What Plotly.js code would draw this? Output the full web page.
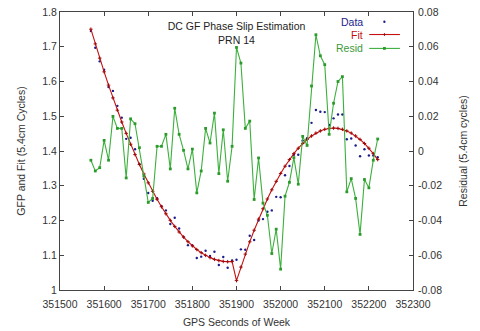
<!DOCTYPE html>
<html>
<head>
<meta charset="utf-8">
<script src="https://cdn.plot.ly/plotly-3.0.1.min.js"></script>
<style>html,body{margin:0;padding:0;background:#fff;}#chart{width:480px;height:331px;}</style>
</head>
<body>
<div id="chart"></div>
<script>
// GPS seconds of week (10 s sampling)
const seconds = [351570,351580,351590,351600,351610,351620,351630,351640,351650,351660,
  351670,351680,351690,351700,351710,351720,351730,351740,351750,351760,
  351770,351780,351790,351800,351810,351820,351830,351840,351850,351860,
  351870,351880,351890,351900,351910,351920,351930,351940,351950,351960,
  351970,351980,351990,352000,352010,352020,352030,352040,352050,352060,
  352070,352080,352090,352100,352110,352120,352130,352140,352150,352160,
  352170,352180,352190,352200,352210,352220];

// GFP data (5.4cm cycles)
const dataGFP = [1.745,1.697,1.658,1.634,1.584,1.573,1.530,1.496,1.435,1.438,
  1.405,1.363,1.320,1.279,1.257,1.264,1.242,1.229,1.190,1.208,
  1.177,1.153,1.129,1.128,1.092,1.096,1.113,1.098,1.110,1.072,
  1.095,1.064,1.085,1.087,1.117,1.116,1.156,1.144,1.200,1.204,
  1.225,1.229,1.268,1.267,1.330,1.357,1.389,1.389,1.430,1.437,
  1.481,1.518,1.513,1.512,1.475,1.494,1.505,1.505,1.434,1.436,
  1.416,1.385,1.405,1.387,1.387,1.382];

// Fit (5.4cm cycles)
const fitGFP = [1.7505,1.7082,1.6673,1.6278,1.5896,1.5528,1.5174,1.4834,1.4508,1.4195,
  1.3897,1.3612,1.3340,1.3083,1.2840,1.2611,1.2395,1.2193,1.2004,1.1830,
  1.1669,1.1523,1.1390,1.1271,1.1165,1.1074,1.0996,1.0932,1.0882,1.0846,
  1.0823,1.0815,1.0820,1.0270,1.0660,1.1032,1.1386,1.1721,1.2039,1.2338,
  1.2619,1.2882,1.3127,1.3354,1.3563,1.3753,1.3925,1.4080,1.4216,1.4333,
  1.4433,1.4515,1.4578,1.4624,1.4651,1.4660,1.4651,1.4624,1.4578,1.4515,
  1.4433,1.4333,1.4216,1.4080,1.3925,1.3753];

// Residual (5.4cm cycles)
const resid = [-0.0053,-0.0115,-0.0096,0.0061,-0.0053,0.0199,0.0130,0.0130,-0.0155,0.0185,
  0.0157,0.0019,-0.0143,-0.0296,-0.0273,0.0027,0.0027,0.0096,-0.0103,0.0246,
  0.0096,0.0004,-0.0103,0.0011,-0.0241,-0.0115,0.0130,0.0046,0.0218,-0.0130,
  0.0122,-0.0174,0.0027,0.0596,0.0506,0.0130,0.0172,-0.0279,-0.0040,-0.0300,
  -0.0370,-0.0590,-0.0450,-0.0680,-0.0260,-0.0180,-0.0038,-0.0191,0.0084,0.0032,
  0.0374,0.0669,0.0548,0.0497,0.0096,0.0275,0.0400,0.0428,-0.0235,-0.0159,
  -0.0273,-0.0480,-0.0164,-0.0212,-0.0053,0.0069];

const residTickVals = [-0.08,-0.06,-0.04,-0.02,0,0.02,0.04,0.06,0.08];
const residTickText = ["-0.08","-0.06","-0.04","-0.02","0","0.02","0.04","0.06","0.08"];
const legendNames = ["Data","Fit","Resid"];

const cBlue = '#1c1c8c', cRed = '#c41010', cGreen = '#3cb03c';
const fontFam = '"Liberation Sans", Arial, sans-serif';

const traces = [
  {x: seconds, y: dataGFP, name: legendNames[0], type: 'scatter', mode: 'markers',
   marker: {color: cBlue, size: 2.4, symbol: 'circle'}, yaxis: 'y'},
  {x: seconds, y: fitGFP, name: legendNames[1], type: 'scatter', mode: 'lines+markers',
   line: {color: cRed, width: 1.1},
   marker: {symbol: 'cross-thin', size: 2.5, color: '#a00808', line: {color: '#a00808', width: 1}}, yaxis: 'y'},
  {x: seconds, y: resid, name: legendNames[2], type: 'scatter', mode: 'lines+markers',
   line: {color: cGreen, width: 1.1},
   marker: {symbol: 'square', size: 2.8, color: '#2a9a2a'}, yaxis: 'y2'}
];

const tickFont = {family: fontFam, size: 10.5, color: '#333'};
const lx0 = 0.876, lx1 = 0.963, lxm = 0.919;
const ly = [0.965, 0.919, 0.869];

const layout = {
  width: 480, height: 331,
  margin: {l: 60, r: 67, t: 12, b: 41},
  paper_bgcolor: '#fff', plot_bgcolor: '#fff',
  showlegend: false,
  separators: '.',
  font: {family: fontFam, size: 10.5, color: '#333'},
  title: {text: 'DC GF Phase Slip Estimation<br>PRN 14', font: {family: fontFam, size: 10.5, color: '#222'},
    x: 0.5, xref: 'paper', xanchor: 'center', y: 0.909, yref: 'container', yanchor: 'middle'},
  xaxis: {range: [351500, 352300], dtick: 100, tick0: 351500, ticks: 'inside', ticklen: 4,
    tickcolor: '#444', showline: true, linecolor: '#444', linewidth: 1, mirror: 'ticks',
    showgrid: false, zeroline: false, exponentformat: 'none', tickformat: 'd',
    ticklabelstandoff: 4, tickfont: tickFont,
    title: {text: 'GPS Seconds of Week', font: {family: fontFam, size: 10.5, color: '#333'}, standoff: 10}},
  yaxis: {range: [1, 1.8], dtick: 0.1, tick0: 1, ticks: 'inside', ticklen: 4, tickcolor: '#444',
    showline: true, linecolor: '#444', linewidth: 1, mirror: true, showgrid: false, zeroline: false,
    tickfont: tickFont,
    title: {text: 'GFP and Fit (5.4cm Cycles)', font: {family: fontFam, size: 10.5, color: '#333'}, standoff: 14}},
  yaxis2: {range: [-0.08, 0.08], overlaying: 'y', side: 'right', tickvals: residTickVals, ticktext: residTickText,
    ticks: 'inside', ticklen: 4, tickcolor: '#444', showline: true, linecolor: '#444', linewidth: 1,
    showgrid: false, zeroline: false, tickfont: tickFont, ticklabelstandoff: 2,
    title: {text: 'Residual (5.4cm cycles)', font: {family: fontFam, size: 10.5, color: '#333'}, standoff: 18}},
  annotations: [
    {text: legendNames[0], xref: 'paper', yref: 'paper', x: 0.864, y: ly[0], xanchor: 'right', yanchor: 'middle', showarrow: false, font: {family: fontFam, size: 10.5, color: cBlue}},
    {text: legendNames[1], xref: 'paper', yref: 'paper', x: 0.864, y: ly[1], xanchor: 'right', yanchor: 'middle', showarrow: false, font: {family: fontFam, size: 10.5, color: cRed}},
    {text: legendNames[2], xref: 'paper', yref: 'paper', x: 0.864, y: ly[2], xanchor: 'right', yanchor: 'middle', showarrow: false, font: {family: fontFam, size: 10.5, color: '#3a9a3a'}}
  ],
  shapes: [
    {type: 'circle', xref: 'paper', yref: 'paper', x0: lxm - 0.0033, x1: lxm + 0.0033, y0: ly[0] - 0.0042, y1: ly[0] + 0.0042, fillcolor: cBlue, line: {width: 0}},
    {type: 'line', xref: 'paper', yref: 'paper', x0: lx0, x1: lx1, y0: ly[1], y1: ly[1], line: {color: cRed, width: 1.1}},
    {type: 'line', xref: 'paper', yref: 'paper', x0: lxm, x1: lxm, y0: ly[1] - 0.005, y1: ly[1] + 0.005, line: {color: '#a00808', width: 1}},
    {type: 'line', xref: 'paper', yref: 'paper', x0: lx0, x1: lx1, y0: ly[2], y1: ly[2], line: {color: cGreen, width: 1.1}},
    {type: 'rect', xref: 'paper', yref: 'paper', x0: lxm - 0.004, x1: lxm + 0.004, y0: ly[2] - 0.005, y1: ly[2] + 0.005, fillcolor: '#2a9a2a', line: {width: 0}}
  ]
};

Plotly.newPlot('chart', traces, layout, {displayModeBar: false, staticPlot: true});
</script>
</body>
</html>
